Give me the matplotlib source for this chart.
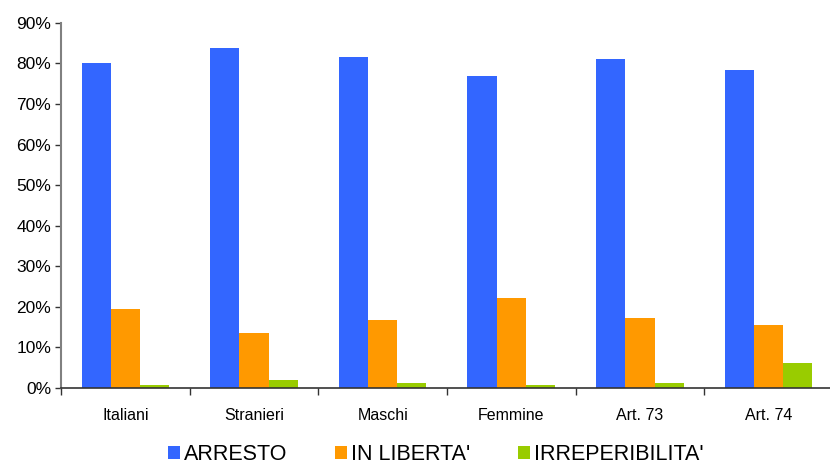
import numpy as np
import matplotlib.pyplot as plt
from matplotlib.ticker import PercentFormatter

plt.rcParams['font.family'] = ['Liberation Sans', 'DejaVu Sans']

categories = ['Italiani', 'Stranieri', 'Maschi', 'Femmine', 'Art. 73', 'Art. 74']
arresto = [80.0, 83.7, 81.7, 77.0, 81.2, 78.3]
liberta = [19.5, 13.6, 16.8, 22.2, 17.3, 15.6]
irrep = [0.7, 2.0, 1.2, 0.7, 1.2, 6.2]

series = [("ARRESTO", arresto, '#3366FF'),
          ("IN LIBERTA'", liberta, '#FF9900'),
          ("IRREPERIBILITA'", irrep, '#99CC00')]

fig = plt.figure(figsize=(8.3, 4.67), dpi=100)
ax = fig.add_axes([0.0735, 0.169, 0.93, 0.782])

x = np.arange(len(categories))
w = 0.227
for i, (name, vals, col) in enumerate(series):
    ax.bar(x + (i - 1) * w, vals, width=w, color=col, label=name)

ax.set_xlim(-0.5, len(categories) - 0.5)
ax.set_ylim(0, 90)
ax.set_yticks(np.arange(0, 91, 10))
ax.yaxis.set_major_formatter(PercentFormatter(decimals=0))
ax.set_xticks(x)
ax.set_xticklabels(categories)
ax.set_xticks(np.arange(-0.5, len(categories) - 0.4, 1), minor=True)
ax.tick_params(axis='x', which='major', length=0, pad=14, labelsize=11.5)
ax.tick_params(axis='x', which='minor', length=5, width=1, color='#333333')
ax.tick_params(axis='y', length=4, width=1, color='#333333', labelsize=12.5, pad=3)

for s in ['top', 'right']:
    ax.spines[s].set_visible(False)
ax.spines['left'].set_color('#808080')
ax.spines['left'].set_linewidth(1.5)
ax.spines['bottom'].set_color('#333333')
ax.spines['bottom'].set_linewidth(1.2)

fig.legend(loc='lower center', bbox_to_anchor=(0.525, -0.038), ncol=3, frameon=False,
           fontsize=15.5, handlelength=0.55, handleheight=0.55, handletextpad=0.2,
           columnspacing=2.2)

fig.savefig('out.png', dpi=100)
